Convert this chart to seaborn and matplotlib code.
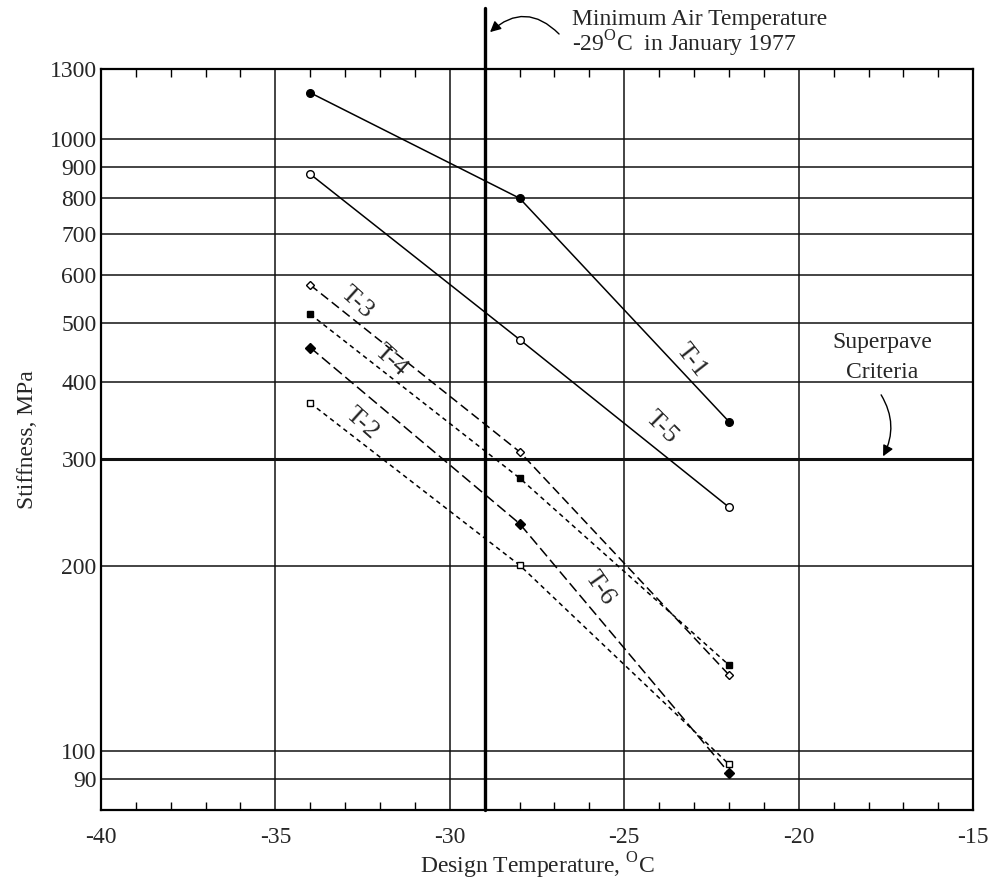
import matplotlib
matplotlib.use("Agg")
import matplotlib.pyplot as plt
import seaborn as sns
import numpy as np
from matplotlib.ticker import FixedLocator, NullFormatter, MultipleLocator

# ---- data ----
temps = [-34, -28, -22]
t1 = [1190, 800, 345]
t5 = [876, 470, 250]
t3 = [577, 308, 133]
t4 = [517, 279, 138]
t6 = [456, 235, 92]
t2 = [370, 201, 95]

yticks = [90, 100, 200, 300, 400, 500, 600, 700, 800, 900, 1000, 1300]
xticks = [-40, -35, -30, -25, -20, -15]
vgrid = [-35, -30, -25, -20]

sns.set_theme(style="white")
plt.rcParams['font.family'] = ['Liberation Serif', 'DejaVu Serif']
plt.rcParams['mathtext.fontset'] = 'custom'
plt.rcParams['mathtext.rm'] = 'Liberation Serif'

FS = 17

fig = plt.figure(figsize=(9.89, 8.88), dpi=100)
ax = fig.add_axes([0.102, 0.088, 0.882, 0.834])
ax.set_yscale('log')
ax.set_xlim(-40, -15)
ax.set_ylim(80, 1300)

# grid
for v in yticks:
    lw = 2.2 if v == 300 else 1.1
    ax.axhline(v, color='#111111', lw=lw, zorder=1)
for v in vgrid:
    ax.axvline(v, color='#111111', lw=1.1, zorder=1)
ax.axvline(-29, ymin=0, ymax=1.083, color='black', lw=2.4, zorder=1, clip_on=False)

series = [
    ("T-1", t1, 'o', 'black', (0, ()), 5.5),
    ("T-5", t5, 'o', 'white', (0, ()), 5.5),
    ("T-3", t3, 'D', 'white', (0, (6, 3)), 4.5),
    ("T-4", t4, 's', 'black', (0, (3, 2.5)), 5),
    ("T-6", t6, 'D', 'black', (0, (7, 3)), 5),
    ("T-2", t2, 's', 'white', (0, (3, 2.5)), 5),
]
for name, vals, mk, fc, ls, ms in series:
    sns.lineplot(x=temps, y=vals, ax=ax, color='black', lw=1.1,
                 marker=mk, markersize=ms, markerfacecolor=fc,
                 markeredgecolor='black', markeredgewidth=1.0,
                 linestyle=ls, zorder=3)

# line labels
labels = [("T-1", -23.09, 434, -52), ("T-5", -23.94, 338, -45),
          ("T-3", -32.66, 541, -42), ("T-4", -31.69, 434, -42),
          ("T-2", -32.51, 343, -42), ("T-6", -25.69, 184, -55)]
for txt, x, y, r in labels:
    ax.text(x, y, txt, rotation=r, ha='center', va='center', fontsize=19,
            rotation_mode='anchor', zorder=4)

# ticks
ax.set_yticks(yticks)
ax.set_yticklabels([str(v) for v in yticks], fontsize=FS)
ax.yaxis.set_minor_formatter(NullFormatter())
ax.yaxis.set_minor_locator(FixedLocator([]))
ax.set_xticks(xticks)
ax.set_xticklabels([str(v) for v in xticks], fontsize=FS)
ax.xaxis.set_minor_locator(MultipleLocator(1))
ax.tick_params(axis='x', which='both', direction='in', top=True, bottom=True,
               length=6, width=1, color='black', pad=12)
ax.tick_params(axis='x', which='major', length=0)
ax.tick_params(axis='y', which='both', length=0, pad=3)

for s in ax.spines.values():
    s.set_color('black')
    s.set_linewidth(1.6)
    s.set_visible(True)

ax.set_xlabel(r"Design Temperature, $^{\mathrm{O}}$C", fontsize=FS, labelpad=2)
ax.set_ylabel("Stiffness, MPa", fontsize=FS, labelpad=8)

# annotations
fig.text(572/989, 1-19/888, "Minimum Air Temperature", fontsize=FS,
         ha='left', va='center')
fig.text(572/989, 1-44/888, r"-29$^{\mathrm{O}}$C  in January 1977", fontsize=FS,
         ha='left', va='center')
ax.annotate("", xy=(488, 888-34), xycoords='figure pixels',
            xytext=(561, 888-36), textcoords='figure pixels',
            arrowprops=dict(arrowstyle='-|>', color='black', lw=1.0,
                            connectionstyle='arc3,rad=0.5', mutation_scale=16),
            annotation_clip=False)

ax.text(-17.6, 465, "Superpave", fontsize=FS, ha='center', va='center')
ax.text(-17.6, 415, "Criteria", fontsize=FS, ha='center', va='center')
ax.annotate("", xy=(-17.62, 300), xytext=(-17.68, 385),
            arrowprops=dict(arrowstyle='-|>', color='black', lw=1.0,
                            connectionstyle='arc3,rad=-0.3', mutation_scale=16))

fig.savefig("out.png", dpi=100)
